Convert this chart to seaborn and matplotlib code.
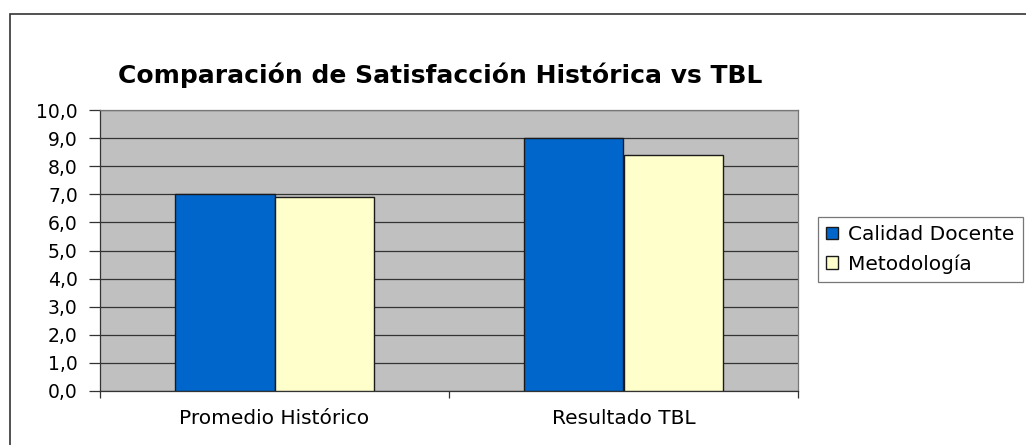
import pandas as pd
import matplotlib
matplotlib.use("Agg")
import matplotlib.pyplot as plt
import matplotlib.patches as mpatches
from matplotlib.ticker import FixedLocator
import seaborn as sns

categorias = ["Promedio Histórico", "Resultado TBL"]
series = ["Calidad Docente", "Metodología"]
calidad_docente = [7.0, 9.0]
metodologia = [6.9, 8.4]
y_ticks = [0, 1, 2, 3, 4, 5, 6, 7, 8, 9, 10]

df = pd.DataFrame({
    "Categoria": categorias * 2,
    "Serie": [series[0]] * 2 + [series[1]] * 2,
    "Valor": calidad_docente + metodologia,
})

sns.set_style("white")
plt.rcParams["font.family"] = ["DejaVu Sans"]
plt.rcParams["text.color"] = "black"
plt.rcParams["xtick.labelcolor"] = "black"
plt.rcParams["ytick.labelcolor"] = "black"

fig = plt.figure(figsize=(10.26, 4.45), dpi=100)
ax = fig.add_axes([100 / 1026, 54 / 445, 698 / 1026, 281 / 445])

# outer chart border (clipped at right and bottom like the original)
fig.patches.append(mpatches.Rectangle((10 / 1026, -0.2), 1.2, 1.2 - 14 / 445,
                                      transform=fig.transFigure, fill=False,
                                      edgecolor="#333333", linewidth=1.2, zorder=0))

sns.barplot(data=df, x="Categoria", y="Valor", hue="Serie", order=categorias,
            hue_order=series, palette=["#0066CC", "#FFFFCC"], width=0.572,
            edgecolor="#1a1a1a", linewidth=1.0, saturation=1, ax=ax, zorder=3)

ax.set_facecolor("#C0C0C0")
ax.set_xlim(-0.5, 1.5)
ax.set_ylim(0, 10)
ax.set_yticks(y_ticks)
ax.set_yticklabels([f"{v:.1f}".replace(".", ",") for v in y_ticks], fontsize=13.5)
ax.yaxis.grid(True, color="#333333", linewidth=0.9, zorder=0)
ax.set_axisbelow(True)
ax.tick_params(axis="y", length=8, width=0.9, color="#333333", pad=8, left=True,
               labelcolor="black")
ax.tick_params(axis="x", which="major", length=0, pad=13, labelsize=14.5,
               labelcolor="black")
ax.xaxis.set_minor_locator(FixedLocator([-0.5, 0.5, 1.5]))
ax.tick_params(axis="x", which="minor", length=5, width=0.9, color="#333333", bottom=True)
ax.set_xlabel("")
ax.set_ylabel("")
for s in ax.spines.values():
    s.set_color("#777777")
    s.set_linewidth(0.9)
ax.spines["bottom"].set_color("#333333")
ax.spines["left"].set_color("#333333")

fig.text(440 / 1026, 1 - 75 / 445, "Comparación de Satisfacción Histórica vs TBL",
         ha="center", va="center", fontsize=18, fontweight="bold", color="black")

handles, labels = ax.get_legend_handles_labels()
leg = ax.legend(handles, labels, loc="upper left",
                bbox_to_anchor=(818 / 1026, 1 - 217 / 445),
                bbox_transform=fig.transFigure, fontsize=14.5, frameon=True,
                fancybox=False, handlelength=0.6, handleheight=0.6,
                handletextpad=0.5, borderpad=0.4, labelspacing=0.5,
                borderaxespad=0, labelcolor="black")
leg.get_frame().set_edgecolor("#555555")
leg.get_frame().set_linewidth(0.9)

fig.savefig("out.png", dpi=100, facecolor="white")
